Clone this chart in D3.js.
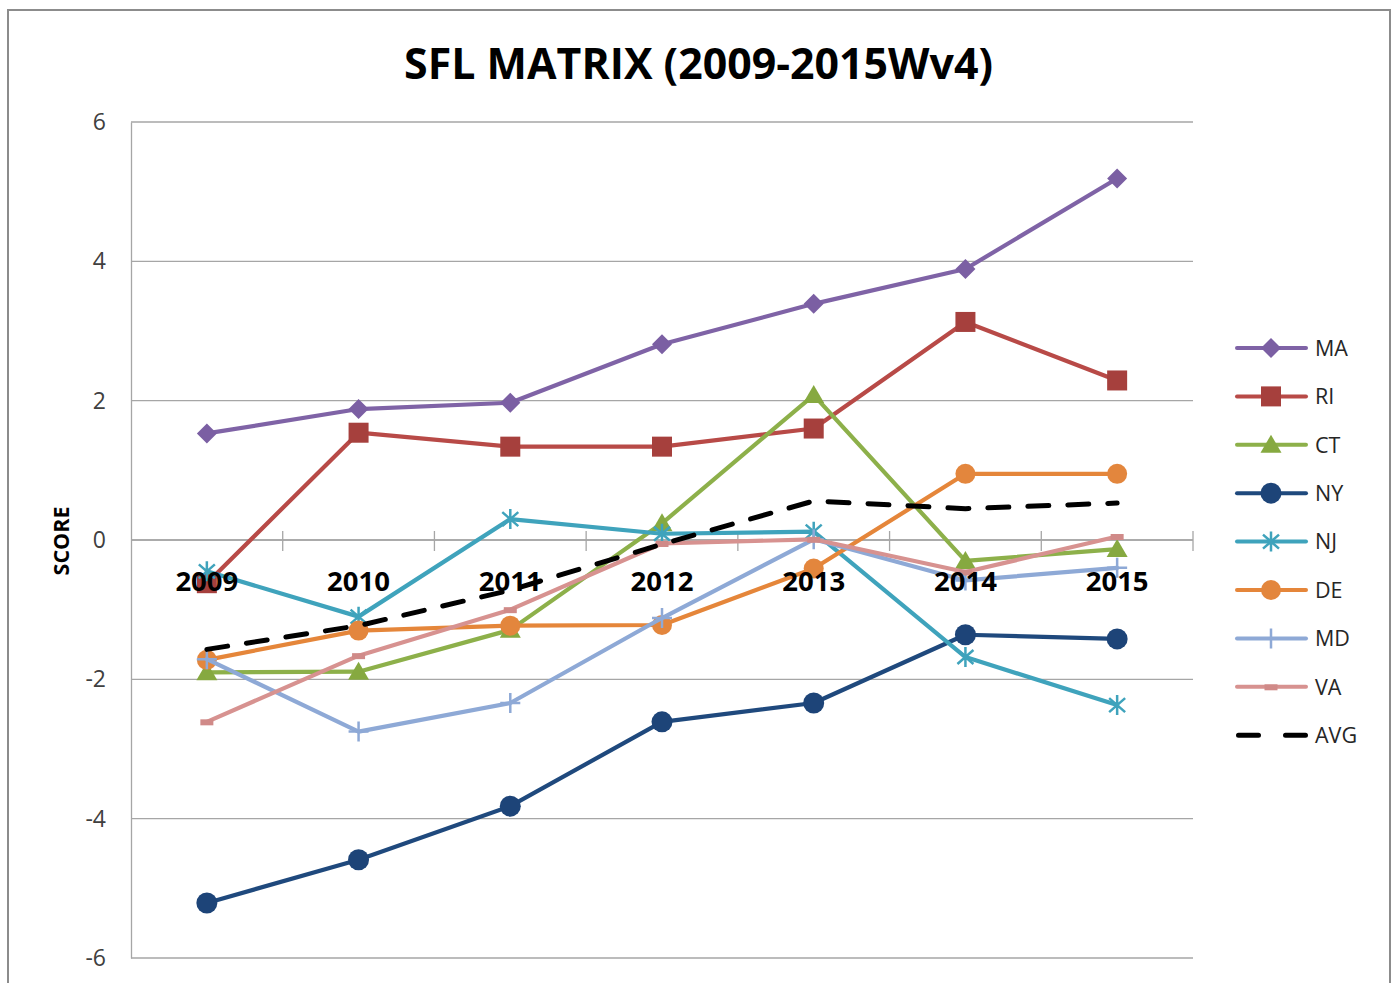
<!DOCTYPE html>
<html>
<head>
<meta charset="utf-8">
<script src="https://cdn.jsdelivr.net/npm/d3@7"></script>
<style>
  body { margin: 0; background: #fff; }
  svg { display: block; font-family: "Open Sans", sans-serif; }
</style>
</head>
<body>
<svg id="chart" width="1395" height="983"></svg>
<script>
var years = ["2009", "2010", "2011", "2012", "2013", "2014", "2015"];
var yTicks = [-6, -4, -2, 0, 2, 4, 6];

var MA  = [1.53, 1.88, 1.97, 2.81, 3.39, 3.89, 5.19];
var RI  = [-0.62, 1.54, 1.34, 1.34, 1.60, 3.13, 2.29];
var CT  = [-1.90, -1.89, -1.29, 0.24, 2.08, -0.30, -0.13];
var NY  = [-5.21, -4.59, -3.82, -2.61, -2.34, -1.36, -1.42];
var NJ  = [-0.45, -1.10, 0.30, 0.09, 0.12, -1.68, -2.37];
var DE  = [-1.72, -1.30, -1.23, -1.22, -0.41, 0.95, 0.95];
var MD  = [-1.71, -2.75, -2.34, -1.12, 0.01, -0.58, -0.40];
var VA  = [-2.61, -1.66, -1.00, -0.05, 0.01, -0.46, 0.05];
var AVG = [-1.57, -1.23, -0.72, -0.06, 0.56, 0.45, 0.53];

var seriesNames = ["MA", "RI", "CT", "NY", "NJ", "DE", "MD", "VA", "AVG"];
var seriesValues = [MA, RI, CT, NY, NJ, DE, MD, VA, AVG];

var style = {
  MA:  {line: "#7F63A6", mark: "#7B5FA3", shape: "diamond"},
  RI:  {line: "#B84A47", mark: "#A6403D", shape: "square"},
  CT:  {line: "#8DB04A", mark: "#86A940", shape: "triangle"},
  NY:  {line: "#1F497D", mark: "#1D4478", shape: "circle"},
  NJ:  {line: "#3FA3BC", mark: "#3FA3BC", shape: "star"},
  DE:  {line: "#E5863A", mark: "#E3863D", shape: "circle2"},
  MD:  {line: "#8EA9D6", mark: "#8EA9D6", shape: "plus"},
  VA:  {line: "#D79290", mark: "#D08A88", shape: "dash"},
  AVG: {line: "#000000", mark: null, shape: null}
};

var svg = d3.select("#chart");

// outer chart border
svg.append("rect").attr("x", 8).attr("y", 10).attr("width", 1382).attr("height", 1000)
  .attr("fill", "#fff").attr("stroke", "#8c8c8c").attr("stroke-width", 2);

var plotL = 131, plotR = 1193, plotT = 122, plotB = 958;

var x = d3.scalePoint().domain(years).range([plotL, plotR]).padding(0.5);
var band = d3.scaleBand().domain(years).range([plotL, plotR]);
var y = d3.scaleLinear().domain([-6, 6]).range([plotB, plotT]);

// gridlines
svg.append("g").selectAll("line").data(yTicks).join("line")
  .attr("x1", plotL).attr("x2", plotR)
  .attr("y1", d => y(d)).attr("y2", d => y(d))
  .attr("stroke", "#a6a6a6").attr("stroke-width", 1.3);

// y axis (plain hyphen for negatives, like the original)
var yAxis = svg.append("g").attr("transform", "translate(" + plotL + ",0)")
  .call(d3.axisLeft(y).tickValues(yTicks).tickSize(0).tickPadding(25).tickFormat(d => String(d)));
yAxis.select(".domain").attr("stroke", "#a6a6a6").attr("stroke-width", 1.3);
yAxis.selectAll("text").attr("font-size", 23).attr("fill", "#404040")
  .attr("font-family", "Open Sans, sans-serif");

// x axis line at 0 with cross ticks
svg.append("line").attr("x1", plotL).attr("x2", plotR).attr("y1", y(0)).attr("y2", y(0))
  .attr("stroke", "#a6a6a6").attr("stroke-width", 1.3);
svg.append("g").selectAll("line").data(years).join("line")
  .attr("x1", d => band(d) + band.bandwidth()).attr("x2", d => band(d) + band.bandwidth())
  .attr("y1", y(0) - 9).attr("y2", y(0) + 11)
  .attr("stroke", "#a6a6a6").attr("stroke-width", 1.3);

function drawMarker(g, shape, color) {
  if (shape === "diamond") {
    g.append("path").attr("d", "M0,-10L10,0L0,10L-10,0Z").attr("fill", color);
  } else if (shape === "square") {
    g.append("rect").attr("x", -10).attr("y", -10).attr("width", 20).attr("height", 20).attr("fill", color);
  } else if (shape === "triangle") {
    g.append("path").attr("d", "M0,-10L10.5,8L-10.5,8Z").attr("fill", color);
  } else if (shape === "circle") {
    g.append("circle").attr("r", 10.5).attr("fill", color);
  } else if (shape === "circle2") {
    g.append("circle").attr("r", 10).attr("fill", color);
  } else if (shape === "star") {
    g.append("path").attr("d", "M0,-10L0,10M-8,-7L8,7M-8,7L8,-7")
      .attr("stroke", color).attr("stroke-width", 2.5).attr("fill", "none");
  } else if (shape === "plus") {
    g.append("path").attr("d", "M0,-10L0,10M-10,0L10,0")
      .attr("stroke", color).attr("stroke-width", 2.5).attr("fill", "none");
  } else if (shape === "dash") {
    g.append("rect").attr("x", -6.5).attr("y", -2.5).attr("width", 13).attr("height", 6).attr("fill", color);
  }
}

var line = d3.line().x((d, i) => x(years[i])).y(d => y(d));

seriesNames.forEach(function(name, si) {
  var s = style[name];
  var vals = seriesValues[si];
  var g = svg.append("g");
  var p = g.append("path").attr("d", line(vals)).attr("fill", "none")
    .attr("stroke", s.line).attr("stroke-width", name === "AVG" ? 5 : 4.2)
    .attr("stroke-linejoin", "round").attr("stroke-linecap", "round");
  if (name === "AVG") p.attr("stroke-dasharray", "21 19");
  if (s.shape) {
    vals.forEach(function(v, i) {
      var m = g.append("g").attr("transform", "translate(" + x(years[i]) + "," + y(v) + ")");
      drawMarker(m, s.shape, s.mark);
    });
  }
});

// category labels (drawn over the series, as in the original)
svg.append("g").selectAll("text").data(years).join("text")
  .attr("x", d => x(d)).attr("y", 591)
  .attr("text-anchor", "middle").attr("font-size", 27.5).attr("font-weight", "bold")
  .attr("fill", "#000").text(d => d);

// y axis title
svg.append("text").attr("transform", "translate(69,541) rotate(-90)")
  .attr("text-anchor", "middle").attr("font-size", 21.5).attr("font-weight", "bold")
  .attr("fill", "#000").text("SCORE");

// title, fitted to the original width
var title = svg.append("text").attr("x", 698.5).attr("y", 79)
  .attr("text-anchor", "middle").attr("font-weight", "bold").attr("font-size", 40)
  .attr("fill", "#000").text("SFL MATRIX (2009-2015Wv4)");
var tw = title.node().getComputedTextLength();
title.attr("font-size", 40 * 589 / tw);

// legend
var legend = svg.append("g");
seriesNames.forEach(function(name, i) {
  var s = style[name];
  var ly = 348 + i * 48.4;
  var g = legend.append("g").attr("transform", "translate(0," + ly + ")");
  if (name === "AVG") {
    g.append("line").attr("x1", 1238.5).attr("x2", 1305.5).attr("y1", 0).attr("y2", 0)
      .attr("stroke", "#000").attr("stroke-width", 5).attr("stroke-linecap", "round")
      .attr("stroke-dasharray", "20 27");
  } else {
    g.append("line").attr("x1", 1237).attr("x2", 1306).attr("y1", 0).attr("y2", 0)
      .attr("stroke", s.line).attr("stroke-width", 4).attr("stroke-linecap", "round");
    var m = g.append("g").attr("transform", "translate(1271,0)");
    drawMarker(m, s.shape, s.mark);
  }
  g.append("text").attr("x", 1315).attr("y", 0).attr("dy", "0.36em")
    .attr("font-size", 21.5).attr("fill", "#262626").text(name);
});
</script>
</body>
</html>
